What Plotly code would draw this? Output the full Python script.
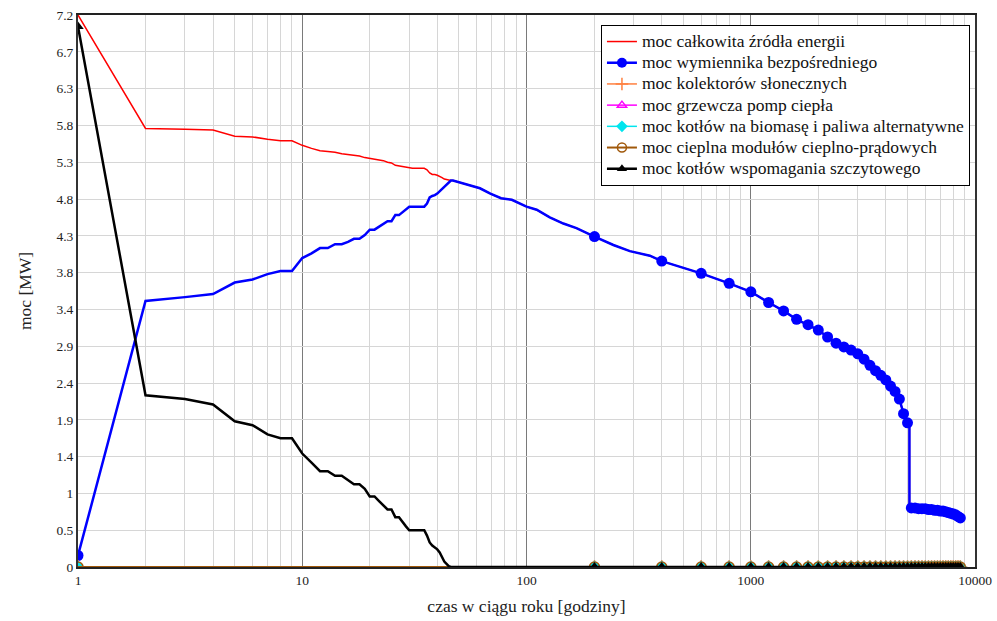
import plotly.graph_objects as go

# ---------------- data ----------------
# hours 1..47 (integer hours of the sorted load-duration curve)
head_hours = [1, 2, 3, 4, 5, 6, 7, 8, 9, 10, 11, 12, 13, 14, 15, 16, 17, 18, 19, 20,
              21, 22, 23, 24, 25, 26, 27, 28, 29, 30, 31, 32, 33, 34, 35, 36, 37, 38, 39, 40,
              41, 42, 43, 44, 45, 46, 47]

total_head = [7.20, 5.72, 5.71, 5.70, 5.62, 5.61, 5.58, 5.56, 5.56, 5.50,
              5.46, 5.43, 5.42, 5.41, 5.39, 5.38, 5.37, 5.36, 5.34, 5.33,
              5.32, 5.31, 5.30, 5.28, 5.27, 5.24, 5.23, 5.22, 5.21, 5.20,
              5.20, 5.20, 5.20, 5.20, 5.20, 5.18, 5.14, 5.12, 5.12, 5.11,
              5.10, 5.08, 5.06, 5.05, 5.05, 5.04, 5.04]

exchanger_head = [0.15, 3.47, 3.52, 3.56, 3.71, 3.75, 3.82, 3.86, 3.86, 4.03,
                  4.09, 4.16, 4.16, 4.21, 4.21, 4.24, 4.28, 4.28, 4.33, 4.40,
                  4.40, 4.44, 4.47, 4.51, 4.51, 4.59, 4.59, 4.63, 4.67, 4.70,
                  4.70, 4.70, 4.70, 4.70, 4.70, 4.74, 4.82, 4.84, 4.85, 4.87,
                  4.90, 4.93, 4.96, 4.99, 5.02, 5.04, 5.04]

peak_head_hours = [1, 2, 3, 4, 5, 6, 7, 8, 9, 10, 11, 12, 13, 14, 15, 16, 17, 18, 19, 20,
                   21, 22, 23, 24, 25, 26, 27, 28, 29, 30, 31, 32, 33, 34, 35, 36, 37, 38, 39, 40,
                   41, 42, 43, 44, 45, 46]
peak_head = [7.05, 2.24, 2.19, 2.12, 1.90, 1.85, 1.73, 1.68, 1.68, 1.48,
             1.36, 1.25, 1.25, 1.19, 1.19, 1.13, 1.08, 1.08, 1.02, 0.92,
             0.92, 0.86, 0.81, 0.75, 0.75, 0.65, 0.65, 0.58, 0.53, 0.48,
             0.48, 0.48, 0.48, 0.48, 0.48, 0.41, 0.32, 0.28, 0.26, 0.23,
             0.19, 0.13, 0.07, 0.04, 0.01, 0.00]

# after hour 47 the total equals the direct exchanger power
tail_hours = [53, 62, 69, 77, 86, 100, 111, 127, 146, 167, 201, 244, 289, 355, 401, 483, 601,
              801, 1001, 1201, 1401, 1601, 1801, 2001, 2201, 2401, 2601, 2801, 3001, 3201,
              3401, 3601, 3801, 4001, 4201, 4401, 4601, 4801, 5001, 5100, 5101,
              5201, 5401, 5601, 5801, 6001, 6201, 6401, 6601, 6801, 7001, 7201, 7401,
              7601, 7801, 8001, 8201, 8401, 8601, 8760]
exchanger_tail = [5.00, 4.94, 4.87, 4.81, 4.79, 4.70, 4.66, 4.56, 4.48, 4.42, 4.31, 4.20, 4.12,
                  4.06, 3.99, 3.92, 3.83,
                  3.70, 3.59, 3.45, 3.34, 3.23, 3.16, 3.09, 3.00, 2.92, 2.87, 2.83, 2.78, 2.71,
                  2.63, 2.56, 2.50, 2.44, 2.36, 2.29, 2.19, 2.00, 1.88, 1.86, 0.77,
                  0.77, 0.77, 0.76, 0.76, 0.76, 0.75, 0.75, 0.74, 0.74, 0.73, 0.73, 0.72,
                  0.71, 0.70, 0.69, 0.68, 0.66, 0.64, 0.63]

# sampled hours of the sources that stay at zero (markers every 200 h)
zero_hours = [1, 201, 401, 601, 801, 1001, 1201, 1401, 1601, 1801, 2001, 2201, 2401, 2601,
              2801, 3001, 3201, 3401, 3601, 3801, 4001, 4201, 4401, 4601, 4801, 5001, 5201,
              5401, 5601, 5801, 6001, 6201, 6401, 6601, 6801, 7001, 7201, 7401, 7601, 7801,
              8001, 8201, 8401, 8601, 8760]
solar = [0.0] * len(zero_hours)
heat_pump = [0.0] * len(zero_hours)
biomass = [0.0] * len(zero_hours)
chp = [0.0] * len(zero_hours)
peak_tail = [0.0] * (len(zero_hours) - 1)

y_tickvals = [0, 0.48, 0.96, 1.44, 1.92, 2.4, 2.88, 3.36, 3.84, 4.32, 4.8, 5.28, 5.76, 6.24, 6.72, 7.2]
y_ticktext = ['0', '0.5', '1', '1.4', '1.9', '2.4', '2.9', '3.4', '3.8', '4.3', '4.8', '5.3',
              '5.8', '6.3', '6.7', '7.2']
x_tickvals = [1, 10, 100, 1000, 10000]
x_ticktext = ['1', '10', '100', '1000', '10000']

names = ['moc całkowita źródła energii',
         'moc wymiennika bezpośredniego',
         'moc kolektorów słonecznych',
         'moc grzewcza pomp ciepła',
         'moc kotłów na biomasę i paliwa alternatywne',
         'moc cieplna modułów cieplno-prądowych',
         'moc kotłów wspomagania szczytowego']

# ---------------- figure ----------------
FONT = 'Liberation Serif'


def msizes(hours, size):
    return [size if (h - 1) % 200 == 0 else 0 for h in hours]


def legend_name(n):
    return '<span style="font-size:17.5px">' + n + '</span>'


fig = go.Figure()

total_hours = head_hours + tail_hours
total_vals = total_head + exchanger_tail
exch_hours = head_hours + tail_hours
exch_vals = exchanger_head + exchanger_tail
peak_hours = peak_head_hours + zero_hours[1:]
peak_vals = peak_head + peak_tail

series = [
    dict(x=total_hours, y=total_vals, color='#ff0000', width=1.5, symbol=None, size=0, lw=0),
    dict(x=exch_hours, y=exch_vals, color='#0000ff', width=2.5, symbol='circle', size=11, lw=0),
    dict(x=zero_hours, y=solar, color='#ff8040', width=1.5, symbol='cross-thin', size=10, lw=1.5),
    dict(x=zero_hours, y=heat_pump, color='#ff00ff', width=1.5, symbol='triangle-up-open', size=9, lw=1.5),
    dict(x=zero_hours, y=biomass, color='#00e5ee', width=1.5, symbol='diamond', size=10, lw=0),
    dict(x=zero_hours, y=chp, color='#a0580a', width=2, symbol='circle-open', size=10, lw=1.5),
    dict(x=peak_hours, y=peak_vals, color='#000000', width=2.5, symbol='triangle-up', size=10, lw=0),
]

for i, s in enumerate(series):
    if s['symbol'] is None:
        fig.add_trace(go.Scatter(x=s['x'], y=s['y'], mode='lines', name=legend_name(names[i]),
                                 line=dict(color=s['color'], width=s['width']),
                                 legendgroup=str(i), showlegend=True))
    else:
        fig.add_trace(go.Scatter(
            x=s['x'], y=s['y'], mode='lines+markers', name=names[i],
            line=dict(color=s['color'], width=s['width']),
            marker=dict(symbol=s['symbol'], size=msizes(s['x'], s['size']), color=s['color'],
                        opacity=1, line=dict(color=s['color'], width=s['lw'])),
            legendgroup=str(i), showlegend=False))
        fig.add_trace(go.Scatter(
            x=[None], y=[None], mode='lines+markers', name=legend_name(names[i]),
            line=dict(color=s['color'], width=s['width']),
            marker=dict(symbol=s['symbol'], size=s['size'] - 1, color=s['color'], opacity=1,
                        line=dict(color=s['color'], width=s['lw'])),
            legendgroup=str(i), showlegend=True))

minor_vals = []
for d in [1, 10, 100, 1000]:
    for k in range(2, 10):
        minor_vals.append(k * d)

fig.update_layout(
    width=997, height=621,
    margin=dict(l=78, r=22, t=15, b=54),
    paper_bgcolor='white', plot_bgcolor='white',
    font=dict(family=FONT, color='#222222', size=13.5),
    showlegend=True,
    legend=dict(x=0.583, y=0.982, xanchor='left', yanchor='top',
                bgcolor='white', bordercolor='black', borderwidth=1,
                font=dict(family=FONT, size=14, color='#111111'),
                itemwidth=30, traceorder='normal'),
    xaxis=dict(type='log', range=[0, 4], tickmode='array', tickvals=x_tickvals,
               ticktext=x_ticktext, showgrid=True, gridcolor='#7a7a7a', gridwidth=1,
               minor=dict(tickmode='array', tickvals=minor_vals, showgrid=True,
                          gridcolor='#d6d6d6', gridwidth=1, ticks=''),
               showline=True, linecolor='#222222', linewidth=2, mirror=True,
               ticks='', zeroline=False, automargin=False, ticklabeloverflow='allow',
               tickfont=dict(family=FONT, size=13.5, color='#222222'),
               title=dict(text='czas w ciągu roku [godziny]', standoff=13,
                          font=dict(family=FONT, size=17.5, color='#222222'))),
    yaxis=dict(range=[0, 7.2], tickmode='array', tickvals=y_tickvals, ticktext=y_ticktext,
               showgrid=True, gridcolor='#d6d6d6', gridwidth=1,
               showline=True, linecolor='#333333', linewidth=2, mirror=True,
               ticks='', zeroline=False, automargin=False, ticklabeloverflow='allow',
               tickfont=dict(family=FONT, size=13.5, color='#222222'),
               title=dict(text='moc [MW]', standoff=20,
                          font=dict(family=FONT, size=17.5, color='#222222'))),
)

# remove the default 8px page margin so the figure sits at the window's top-left corner
fig.write_html('out.html', config={'displayModeBar': False},
               post_script="document.body.style.margin='0';")
